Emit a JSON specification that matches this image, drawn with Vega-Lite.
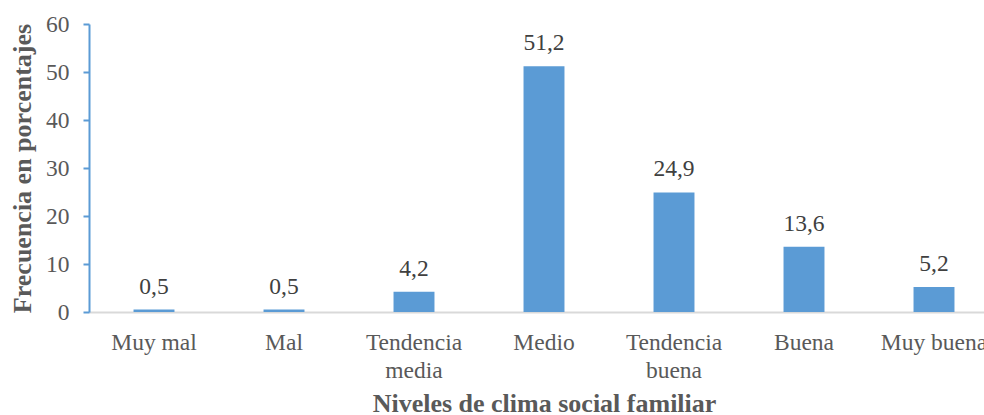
{
  "$schema": "https://vega.github.io/schema/vega-lite/v6.json",
  "width": 895,
  "height": 288,
  "autosize": {"type": "none"},
  "padding": {"left": 89, "top": 24, "right": 0, "bottom": 103},
  "background": "white",
  "config": {"view": {"stroke": null}, "font": "Liberation Serif, Times New Roman, serif"},
  "data": {
    "values": [
      {"nivel": "Muy mal", "pct": 0.5, "label": "0,5"},
      {"nivel": "Mal", "pct": 0.5, "label": "0,5"},
      {"nivel": "Tendencia media", "pct": 4.2, "label": "4,2"},
      {"nivel": "Medio", "pct": 51.2, "label": "51,2"},
      {"nivel": "Tendencia buena", "pct": 24.9, "label": "24,9"},
      {"nivel": "Buena", "pct": 13.6, "label": "13,6"},
      {"nivel": "Muy buena", "pct": 5.2, "label": "5,2"}
    ]
  },
  "encoding": {
    "x": {
      "field": "nivel",
      "type": "nominal",
      "sort": null,
      "scale": {"range": [0, 910], "paddingInner": 0.685, "paddingOuter": 0.3425},
      "axis": {
        "title": "Niveles de clima social familiar",
        "titleFont": "Liberation Serif, Times New Roman, serif",
        "titleFontSize": 26,
        "titleFontWeight": "bold",
        "titleColor": "#595959",
        "titleX": 455,
        "titleY": 99,
        "titleBaseline": "alphabetic",
        "titleAnchor": "middle",
        "labelAngle": 0,
        "labelFont": "Liberation Serif, Times New Roman, serif",
        "labelFontSize": 23.5,
        "labelColor": "#595959",
        "labelPadding": 18,
        "labelLineHeight": 28,
        "labelExpr": "indexof(datum.label, 'Tendencia') == 0 ? split(datum.label, ' ') : datum.label",
        "ticks": false,
        "domainColor": "#d9d9d9",
        "domainWidth": 2,
        "grid": false
      }
    },
    "y": {
      "field": "pct",
      "type": "quantitative",
      "scale": {"domain": [0, 60]},
      "axis": {
        "title": "Frecuencia en porcentajes",
        "titleFont": "Liberation Serif, Times New Roman, serif",
        "titleFontSize": 26,
        "titleFontWeight": "bold",
        "titleColor": "#595959",
        "titleAngle": -90,
        "titleX": -59,
        "titleY": 144,
        "titleBaseline": "alphabetic",
        "titleAlign": "center",
        "values": [0, 10, 20, 30, 40, 50, 60],
        "labelFont": "Liberation Serif, Times New Roman, serif",
        "labelFontSize": 23.5,
        "labelColor": "#595959",
        "labelPadding": 14,
        "tickSize": 6,
        "tickColor": "#5b9bd5",
        "tickWidth": 2,
        "domainColor": "#5b9bd5",
        "domainWidth": 2,
        "grid": false
      }
    }
  },
  "layer": [
    {"mark": {"type": "bar", "color": "#5b9bd5"}},
    {
      "mark": {"type": "text", "font": "Liberation Serif, Times New Roman, serif", "fontSize": 23.5, "color": "#404040", "baseline": "alphabetic", "align": "center", "dy": -16},
      "encoding": {"text": {"field": "label"}}
    }
  ]
}
